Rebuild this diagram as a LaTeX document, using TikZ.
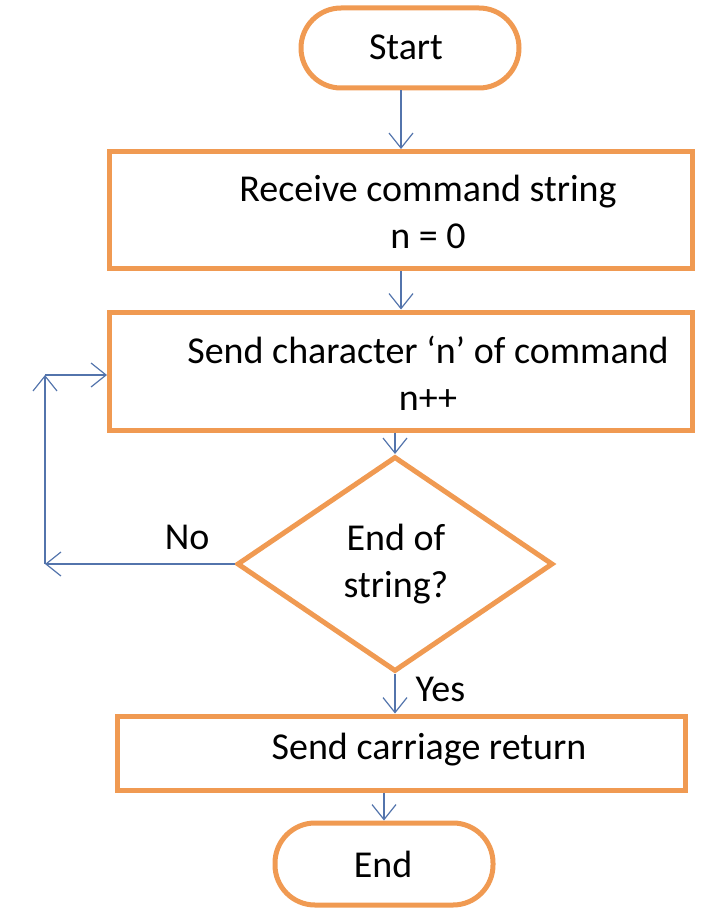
\documentclass[tikz,border=0pt]{standalone}
\usepackage{fontspec}
\setmainfont{Carlito}
\usetikzlibrary{shapes.geometric,arrows.meta,positioning,calc}

\definecolor{boxorange}{HTML}{F09A52}
\definecolor{flowblue}{HTML}{5374AC}

\begin{document}
\begin{tikzpicture}[x=1pt,y=-1pt,
    every node/.style={font=\fontsize{38}{47}\selectfont,inner sep=0pt},
    procbox/.style={draw=boxorange,line width=5pt,rectangle},
    termbox/.style={procbox,rounded corners=40pt},
    decbox/.style={draw=boxorange,line width=5pt,diamond,aspect=1.47},
    txt/.style={align=center},
    flow/.style={draw=flowblue,line width=1.2pt,-{Straight Barb[length=15pt,width=24pt]}}]
    \useasboundingbox (0,0) rectangle (720,915);

    % boxes
    \node[termbox,minimum width=218pt,minimum height=80pt] (start) at (410,48)    {};
    \node[procbox,minimum width=583pt,minimum height=117pt] (recv) at (401,210)   {};
    \node[procbox,minimum width=583pt,minimum height=118pt] (sendch) at (401,371) {};
    \node[decbox,minimum width=316pt,minimum height=215pt] (check) at (395,564)   {};
    \node[procbox,minimum width=568pt,minimum height=74pt] (cret) at (401,753)    {};
    \node[termbox,minimum width=218pt,minimum height=82pt] (done) at (384,864)    {};

    % texts
    \node[txt] (start-txt)  at (406,47)  {Start};
    \node[txt] (recv-txt)   at (428,212) {Receive command string\\n = 0};
    \node[txt] (sendch-txt) at (428,373) {Send character `n' of command\\n++};
    \node[txt] (check-txt)  at (396,564) {End of\\string?};
    \node[txt] (cret-txt)   at (429,750) {Send carriage return};
    \node[txt] (done-txt)   at (383,864) {End};

    % main flow
    \draw[flow] (start.south -| recv.north) -- (recv.north);
    \draw[flow] (recv.south) -- (sendch.north);
    \draw[flow] (sendch.south -| check.north) -- (check.north);
    \draw[flow] (check.south) -- (check.south |- cret.north) node[pos=0.4,right=20pt] (yes) {Yes};
    \draw[flow] (done.north |- cret.south) -- (done.north);

    % loop back
    \coordinate (loopbot) at (45,564);
    \coordinate (looptop) at (45,375);
    \draw[flow] (check.west) -- (loopbot) node[pos=0.25,above=14pt] (no) {No};
    \draw[flow] (loopbot) -- (looptop);
    \draw[flow] (looptop) -- (looptop -| sendch.west);
\end{tikzpicture}
\end{document}
